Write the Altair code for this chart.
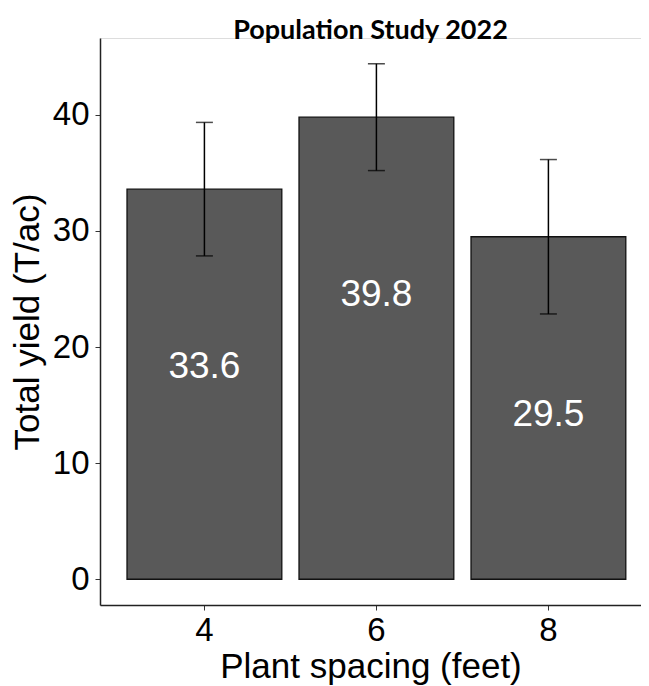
import altair as alt
import pandas as pd

spacing = ["4", "6", "8"]
mean_yield = [33.6, 39.8, 29.5]
lower = [27.85, 35.2, 22.85]
upper = [39.35, 44.4, 36.15]
labels = ["33.6", "39.8", "29.5"]

df = pd.DataFrame({
    "spacing": spacing,
    "mean": mean_yield,
    "lower": lower,
    "upper": upper,
    "label": labels,
})

FONT = "Liberation Sans"

x_enc = alt.X(
    "spacing:N",
    sort=spacing,
    title="Plant spacing (feet)",
    scale=alt.Scale(paddingInner=0.1, paddingOuter=0.1227, align=0.64),
    axis=alt.Axis(
        labelAngle=0,
        labelFontSize=33,
        labelFont=FONT,
        labelColor="black",
        labelPadding=4,
        tickSize=5,
        tickColor="#333333",
        domainColor="#222222",
        domainWidth=1.5,
        grid=False,
        titleFont=FONT,
        titleFontSize=35,
        titleFontWeight="normal",
        titleColor="black",
        titlePadding=2,
    ),
)

y_scale = alt.Scale(domain=[-2.22, 46.62], nice=False, zero=False)
y_axis = alt.Axis(
    values=[0, 10, 20, 30, 40],
    grid=False,
    labelFontSize=33,
    labelFont=FONT,
    labelColor="black",
    labelPadding=6,
    tickSize=5,
    tickColor="#333333",
    domainColor="#222222",
    domainWidth=1.5,
    titleFont=FONT,
    titleFontSize=35,
    titleFontWeight="normal",
    titleColor="black",
    titlePadding=7,
)

base = alt.Chart(df)

bars = base.mark_bar(color="#595959", stroke="#111111", strokeWidth=1.3).encode(
    x=x_enc,
    y=alt.Y("mean:Q", title="Total yield (T/ac)", scale=y_scale, axis=y_axis),
)

err = base.mark_rule(color="black", strokeWidth=1.5).encode(
    x=alt.X("spacing:N", sort=spacing),
    y=alt.Y("lower:Q"),
    y2="upper:Q",
)

cap_lo = base.mark_tick(color="black", size=17, thickness=1.5, orient="horizontal").encode(
    x=alt.X("spacing:N", sort=spacing),
    y=alt.Y("lower:Q"),
)
cap_hi = base.mark_tick(color="black", size=17, thickness=1.5, orient="horizontal").encode(
    x=alt.X("spacing:N", sort=spacing),
    y=alt.Y("upper:Q"),
)

text = base.mark_text(
    color="white", fontSize=37, font=FONT, baseline="alphabetic", dy=189
).encode(
    x=alt.X("spacing:N", sort=spacing),
    y=alt.Y("mean:Q"),
    text="label:N",
)

chart = (
    alt.layer(bars, err, cap_lo, cap_hi, text)
    .properties(
        width=541,
        height=567,
        title=alt.TitleParams(
            "Population Study 2022",
            font="Lato",
            fontSize=27,
            fontWeight="bold",
            color="black",
            anchor="middle",
            baseline="alphabetic",
            offset=-28,
        ),
        autosize=alt.AutoSizeParams(type="none"),
        padding={"left": 92, "top": 30, "right": 0, "bottom": 80},
    )
    .configure_view(stroke="white", strokeWidth=3, fill="white")
    .configure_axis(grid=False)
    .configure(background="white")
)

chart.save("out.html", embed_options={"renderer": "svg", "actions": False})
